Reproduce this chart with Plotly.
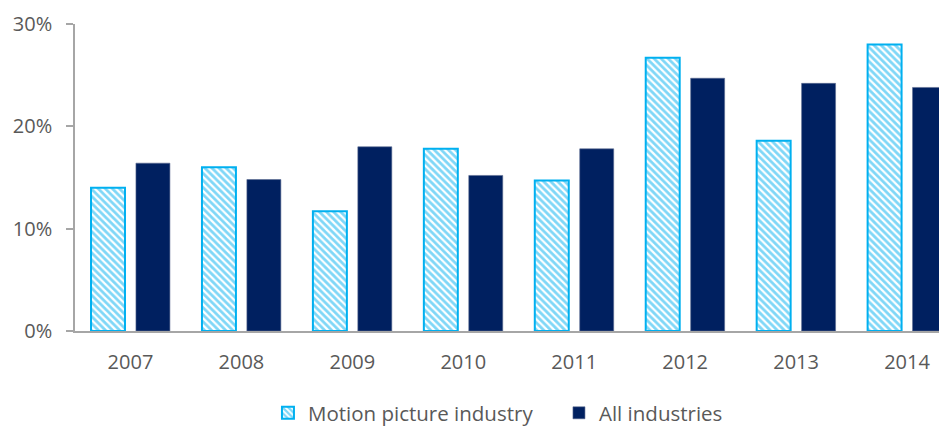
import plotly.graph_objects as go

years = ["2007", "2008", "2009", "2010", "2011", "2012", "2013", "2014"]
motion_picture = [14.0, 16.0, 11.7, 17.8, 14.7, 26.7, 18.6, 28.0]
all_industries = [16.4, 14.8, 18.0, 15.2, 17.8, 24.7, 24.2, 23.8]
y_ticks = [0, 10, 20, 30]
y_tick_labels = ["0%", "10%", "20%", "30%"]

FONT = "Open Sans"
TXT = "#595959"
AX = "#A6A6A6"

fig = go.Figure()
fig.add_trace(go.Bar(
    x=years, y=motion_picture, name="Motion picture industry",
    marker=dict(
        color="white",
        line=dict(color="#00B0F0", width=2),
        pattern=dict(shape="\\", fgcolor="#00B0F0", bgcolor="white",
                     size=5, solidity=0.55, fillmode="overlay"),
    ),
))
fig.add_trace(go.Bar(
    x=years, y=all_industries, name="All industries",
    marker=dict(color="#002060", line=dict(color="#5a6a90", width=0.6)),
))

fig.update_layout(
    width=939, height=418,
    margin=dict(l=66.5, r=0, t=16, b=95, autoexpand=False),
    paper_bgcolor="white", plot_bgcolor="white",
    barmode="group", bargap=0.19, bargroupgap=0.244,
    font=dict(family=FONT, size=20, color=TXT),
    showlegend=True,
    legend=dict(orientation="h", x=0.555, xanchor="center", y=-0.267, yanchor="middle",
                font=dict(family=FONT, size=20.5, color=TXT), itemwidth=30,
                entrywidth=246, entrywidthmode="pixels",
                traceorder="normal"),
    xaxis=dict(
        type="category", range=[-0.5, 7.36], automargin=False,
        showline=True, linecolor=AX, linewidth=1.5,
        ticks="", showgrid=False, zeroline=False, ticklabelstandoff=12,
        tickfont=dict(family=FONT, size=20, color=TXT),
    ),
    yaxis=dict(
        range=[0, 30], tickvals=y_ticks, ticktext=y_tick_labels, automargin=False,
        showline=True, linecolor=AX, linewidth=1.5,
        ticks="outside", ticklen=7, tickcolor=AX, tickwidth=1.5,
        showgrid=False, zeroline=False, ticklabelstandoff=10,
        tickfont=dict(family=FONT, size=20, color=TXT),
    ),
)

fig.write_html("out.html")
